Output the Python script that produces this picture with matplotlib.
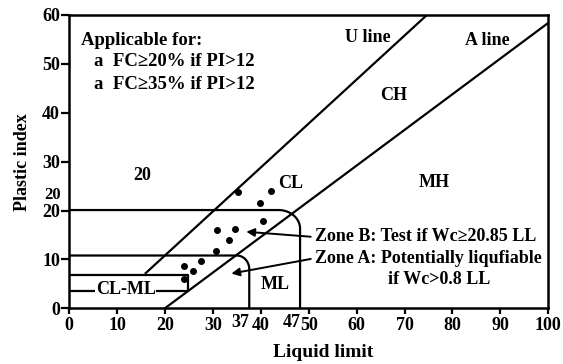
import numpy as np
import matplotlib
matplotlib.use("Agg")
import matplotlib.pyplot as plt

plt.rcParams['font.family'] = ['Liberation Serif', 'DejaVu Serif']
plt.rcParams['font.weight'] = 'bold'
plt.rcParams['axes.labelweight'] = 'bold'

# soil test points (liquid limit, plasticity index)
ll_points = [35.3, 42.2, 39.8, 40.5, 30.8, 34.6, 33.3, 30.6, 27.6, 24.0, 25.8, 24.0]
pi_points = [23.7, 24.0, 21.5, 17.9, 16.0, 16.2, 13.9, 11.7, 9.6, 8.6, 7.6, 5.9]

# zone limits as drawn
zone_a_ll, zone_a_pi = 37.6, 10.8
zone_b_ll, zone_b_pi = 48.2, 20.1
clml_ll, clml_top, clml_bot = 24.9, 6.8, 3.6

x_ticks = [0, 10, 20, 30, 40, 50, 60, 70, 80, 90, 100]
y_ticks = [0, 10, 20, 30, 40, 50, 60]


def rounded_corner(ll, pi, rx, ry):
    """horizontal line at pi to a rounded corner, then down to zero at ll"""
    t = np.linspace(np.pi / 2, 0, 30)
    xs = np.concatenate([[0], ll - rx + rx * np.cos(t), [ll]])
    ys = np.concatenate([[pi], pi - ry + ry * np.sin(t), [0]])
    return xs, ys


fig = plt.figure(figsize=(5.63, 3.64), dpi=100)
ax = fig.add_axes([0.1226, 0.153, 0.8514, 0.8058])
lw = 1.6

# U line and A line
u_x = np.array([16, 60 / 0.9 + 8])
ax.plot(u_x, 0.9 * (u_x - 8), color='black', lw=lw)
a_x = np.array([20, 100])
ax.plot(a_x, 0.73 * (a_x - 20), color='black', lw=lw)

# zone boundaries
xb, yb = rounded_corner(zone_b_ll, zone_b_pi, 4.5, 3.8)
ax.plot(xb, yb, color='black', lw=lw)
xa, ya = rounded_corner(zone_a_ll, zone_a_pi, 2.6, 2.8)
ax.plot(xa, ya, color='black', lw=lw)

fs = 13

# CL-ML box
ax.plot([0, clml_ll, clml_ll, 0], [clml_top, clml_top, clml_bot, clml_bot],
        color='black', lw=lw)
ax.text(11.8, 2.9, 'CL-ML', fontsize=fs, ha='center', va='baseline',
        bbox=dict(facecolor='white', edgecolor='none', pad=0.5))

ax.scatter(ll_points, pi_points, s=16, color='black', zorder=3)

# arrows
arrow = dict(arrowstyle='-|>', color='black', lw=1.4, mutation_scale=12)
ax.annotate('', xy=(36.4, 15.7), xytext=(51, 14.6), arrowprops=arrow)
ax.annotate('', xy=(33.3, 7.0), xytext=(51, 10.2), arrowprops=arrow)

ax.text(51.3, 14.6, 'Zone B: Test if Wc≥20.85 LL', fontsize=fs, va='center')
ax.text(51.3, 10.2, 'Zone A: Potentially liqufiable', fontsize=fs, va='center')
ax.text(77.2, 5.8, 'if Wc>0.8 LL', fontsize=fs, va='center', ha='center')

ax.text(2.5, 53.8, 'Applicable for:', fontsize=13.5, va='baseline')
ax.text(5.2, 49.5, 'a  FC≥20% if PI>12', fontsize=13.5, va='baseline')
ax.text(5.2, 44.8, 'a  FC≥35% if PI>12', fontsize=13.5, va='baseline')

ax.text(57.6, 54.5, 'U line', fontsize=fs, va='baseline')
ax.text(82.7, 53.8, 'A line', fontsize=fs, va='baseline')
ax.text(64.8, 42.6, 'CH', fontsize=fs, va='baseline')
ax.text(72.9, 24.9, 'MH', fontsize=fs, va='baseline')
ax.text(43.6, 24.7, 'CL', fontsize=fs, va='baseline')
ax.text(39.9, 3.9, 'ML', fontsize=fs, va='baseline')
ax.text(13.4, 26.3, '20', fontsize=fs, va='baseline')

# extra labels next to the axes
ax.text(-1.8, 21.6, '20', fontsize=12, ha='right', va='bottom', clip_on=False)
ax.text(35.7, -3.9, '37', fontsize=fs, ha='center', va='baseline', clip_on=False)
ax.text(46.5, -3.8, '47', fontsize=fs, ha='center', va='baseline', clip_on=False)

ax.set_xlim(0, 100)
ax.set_ylim(0, 60)
ax.set_xticks(x_ticks)
ax.set_yticks(y_ticks)
ax.tick_params(axis='x', direction='out', length=4.5, width=1.6, pad=2, labelsize=fs)
ax.tick_params(axis='y', direction='out', length=6, width=1.6, pad=0.5, labelsize=fs)
for s in ax.spines.values():
    s.set_linewidth(1.8)

ax.set_xlabel('Liquid limit', fontsize=14)
ax.set_ylabel('Plastic index', fontsize=13)
ax.xaxis.set_label_coords(0.53, -0.12)
ax.yaxis.set_label_coords(-0.08, 0.5)

fig.savefig('out.png', dpi=100)
